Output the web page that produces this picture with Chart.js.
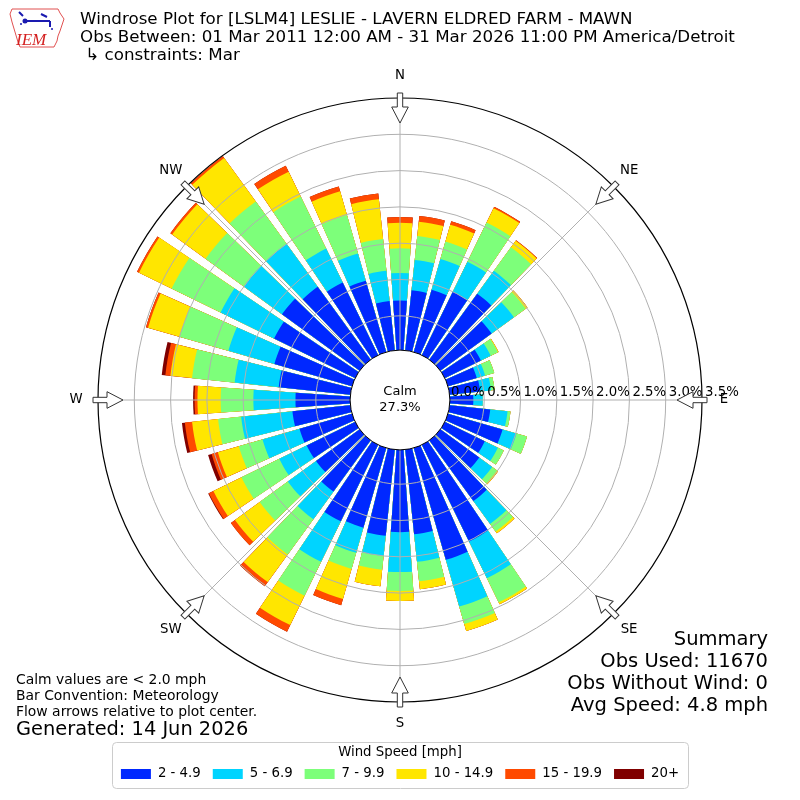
<!DOCTYPE html>
<html>
<head>
<meta charset="utf-8">
<script src="https://cdn.jsdelivr.net/npm/chart.js@4.4.1/dist/chart.umd.min.js"></script>
<style>
  html, body { margin: 0; padding: 0; background: #fff; }
  #wrap { width: 800px; height: 800px; }
</style>
</head>
<body>
<div id="wrap"><canvas id="rose" width="800" height="800"></canvas></div>
<script>
// bar directions, degrees clockwise from north
const DIRECTIONS = [0, 10, 20, 30, 40, 50, 60, 70, 80, 90, 100, 110, 120, 130, 140, 150, 160, 170,
                    180, 190, 200, 210, 220, 230, 240, 250, 260, 270, 280, 290, 300, 310, 320, 330, 340, 350];
const SPEED_BINS = ['2 - 4.9', '5 - 6.9', '7 - 9.9', '10 - 14.9', '15 - 19.9', '20+'];
const BIN_COLORS = ['#0028ff', '#00d4ff', '#7dff7a', '#ffe600', '#ff4a00', '#800000'];

// percent of observations per direction, one array per speed bin
const SPD_2_5   = [0.71, 0.86, 0.92, 1.00, 1.15, 0.90, 0.58, 0.44, 0.45, 0.35, 0.59, 0.81, 0.64, 0.69, 1.06, 1.51, 1.63, 1.20,
                   1.16, 1.22, 1.17, 1.20, 0.90, 0.77, 0.77, 0.78, 0.83, 0.78, 1.02, 1.14, 1.27, 1.35, 1.27, 1.14, 1.05, 0.71];
const SPD_5_7   = [0.38, 0.42, 0.44, 0.46, 0.39, 0.38, 0.15, 0.12, 0.15, 0.13, 0.24, 0.20, 0.20, 0.22, 0.39, 0.56, 0.67, 0.38,
                   0.55, 0.28, 0.36, 0.62, 0.47, 0.48, 0.42, 0.53, 0.71, 0.58, 0.61, 0.66, 0.82, 0.65, 0.73, 0.52, 0.39, 0.42];
const SPD_7_10  = [0.34, 0.33, 0.25, 0.60, 0.40, 0.20, 0.11, 0.13, 0.05, 0.00, 0.04, 0.15, 0.09, 0.08, 0.13, 0.37, 0.25, 0.27,
                   0.26, 0.19, 0.23, 0.52, 0.60, 0.48, 0.58, 0.34, 0.32, 0.45, 0.59, 0.70, 0.75, 0.65, 0.72, 0.80, 0.55, 0.44];
const SPD_10_15 = [0.35, 0.20, 0.24, 0.22, 0.11, 0.03, 0.01, 0.00, 0.00, 0.00, 0.00, 0.00, 0.00, 0.02, 0.03, 0.03, 0.10, 0.11,
                   0.14, 0.23, 0.43, 0.45, 0.47, 0.42, 0.43, 0.30, 0.36, 0.32, 0.30, 0.45, 0.50, 0.57, 0.74, 0.38, 0.34, 0.55];
const SPD_15_20 = [0.08, 0.08, 0.05, 0.02, 0.01, 0.00, 0.00, 0.00, 0.00, 0.00, 0.00, 0.00, 0.00, 0.00, 0.00, 0.00, 0.00, 0.00,
                   0.00, 0.00, 0.09, 0.10, 0.07, 0.07, 0.07, 0.09, 0.10, 0.04, 0.07, 0.03, 0.03, 0.03, 0.03, 0.09, 0.07, 0.08];
const SPD_20_UP = [0.00, 0.00, 0.00, 0.00, 0.00, 0.00, 0.00, 0.00, 0.00, 0.00, 0.00, 0.00, 0.00, 0.00, 0.00, 0.00, 0.00, 0.00,
                   0.00, 0.00, 0.00, 0.00, 0.00, 0.00, 0.01, 0.05, 0.04, 0.02, 0.05, 0.00, 0.00, 0.00, 0.00, 0.00, 0.00, 0.00];

const TICK_VALUES = [0, 0.5, 1.0, 1.5, 2.0, 2.5, 3.0, 3.5];
const CALM_PCT = 27.3;
const COMPASS = ['N', 'NE', 'E', 'SE', 'S', 'SW', 'W', 'NW'];

const BAR_DEG = 8;   // bar width, rest of each 10 deg sector is gap
const GAP_DEG = 2;
const R_MIN = -0.66; // leaves room for the calm circle
const R_MAX = 3.5;
const FONT = '"DejaVu Sans", sans-serif';

const BINS = [SPD_2_5, SPD_5_7, SPD_7_10, SPD_10_15, SPD_15_20, SPD_20_UP];

// each bar slot followed by an empty gap slot
const labels = [];
DIRECTIONS.forEach(d => { labels.push(d + '°'); labels.push(''); });

// cumulative stacks, smallest first so dataset 0 is painted on top
let running = DIRECTIONS.map(() => 0);
const datasets = BINS.map((bin, k) => {
  running = running.map((v, i) => v + bin[i]);
  const data = [];
  running.forEach(v => { data.push(+v.toFixed(3)); data.push(0); });
  return {
    label: SPEED_BINS[k],
    data,
    backgroundColor: c => (c.index % 2 ? 'rgba(0,0,0,0)' : BIN_COLORS[k]),
    borderWidth: 0,
    angle: c => (c.index % 2 ? GAP_DEG : BAR_DEG),
  };
});

function text(ctx, str, x, y, size, align, color, base) {
  ctx.font = size + 'px ' + FONT;
  ctx.textAlign = align || 'left';
  ctx.textBaseline = base || 'middle';
  ctx.fillStyle = color || '#000';
  ctx.fillText(str, x, y);
}

function drawArrow(ctx, cx, cy, deg, rOut) {
  const r0 = rOut + 5, rh = rOut - 9, rt = rOut - 25;
  const pts = [[r0, -2.7], [r0, 2.7], [rh, 2.7], [rh, 8.3], [rt, 0], [rh, -8.3], [rh, -2.7]];
  ctx.save();
  ctx.translate(cx, cy);
  ctx.rotate(deg * Math.PI / 180);
  ctx.beginPath();
  pts.forEach(([d, t], i) => (i ? ctx.lineTo(t, -d) : ctx.moveTo(t, -d)));
  ctx.closePath();
  ctx.fillStyle = '#fff';
  ctx.fill();
  ctx.strokeStyle = '#333';
  ctx.lineWidth = 1;
  ctx.stroke();
  ctx.restore();
}

function drawLogo(ctx) {
  const outline = [[12, 9], [58, 9], [60, 13], [64, 19], [62, 25], [60, 31], [58, 36], [57, 41], [54, 47],
                   [20, 47], [18, 42], [15, 32], [12, 22], [10, 14]];
  ctx.save();
  ctx.beginPath();
  outline.forEach(([x, y], i) => (i ? ctx.lineTo(x, y) : ctx.moveTo(x, y)));
  ctx.closePath();
  ctx.strokeStyle = '#e05050';
  ctx.lineWidth = 1;
  ctx.stroke();
  ctx.strokeStyle = '#1a1ab0';
  ctx.fillStyle = '#1a1ab0';
  ctx.lineWidth = 2;
  ctx.beginPath();
  ctx.moveTo(25, 21); ctx.lineTo(50, 21);
  ctx.moveTo(50, 21); ctx.lineTo(50, 27);
  ctx.moveTo(19, 12); ctx.lineTo(23, 16);
  ctx.moveTo(41, 14); ctx.lineTo(47, 17);
  ctx.stroke();
  ctx.beginPath(); ctx.arc(25, 21, 2.5, 0, Math.PI * 2); ctx.fill();
  ctx.beginPath(); ctx.arc(21, 24, 1, 0, Math.PI * 2); ctx.fill();
  ctx.beginPath(); ctx.arc(52, 29, 1, 0, Math.PI * 2); ctx.fill();
  ctx.font = 'italic 17px "Liberation Serif", serif';
  ctx.textAlign = 'left';
  ctx.textBaseline = 'alphabetic';
  ctx.fillStyle = '#d42020';
  ctx.fillText('IEM', 16, 45);
  ctx.restore();
}

function drawLegend(ctx, chart) {
  const x0 = 112, y0 = 742, w = 576, h = 46;
  ctx.save();
  ctx.beginPath();
  ctx.roundRect(x0 + 0.5, y0 + 0.5, w, h, 4);
  ctx.fillStyle = 'rgba(255,255,255,0.8)';
  ctx.fill();
  ctx.strokeStyle = '#cccccc';
  ctx.lineWidth = 1;
  ctx.stroke();
  text(ctx, 'Wind Speed [mph]', 400, 753, 13.3, 'center');
  ctx.font = '13.3px ' + FONT;
  const sw = 30, gap = 7, space = 12;
  const items = chart.data.datasets.map((ds, k) => ({ label: ds.label, color: BIN_COLORS[k], tw: ctx.measureText(ds.label).width }));
  const total = items.reduce((s, it) => s + sw + gap + it.tw, 0) + space * (items.length - 1);
  let x = 400 - total / 2;
  items.forEach(it => {
    ctx.fillStyle = it.color;
    ctx.fillRect(x, 769, sw, 10);
    text(ctx, it.label, x + sw + gap, 774, 13.3, 'left');
    x += sw + gap + it.tw + space;
  });
  ctx.restore();
}

const roseDecor = {
  id: 'roseDecor',
  afterDatasetsDraw(chart) {
    const ctx = chart.ctx;
    const scale = chart.scales.r;
    const cx = scale.xCenter, cy = scale.yCenter;
    const rOut = scale.getDistanceFromCenterForValue(R_MAX);
    const rCalm = scale.getDistanceFromCenterForValue(0) + 2;
    ctx.save();
    // grid rings over the bars
    ctx.strokeStyle = '#b0b0b0';
    ctx.lineWidth = 1;
    TICK_VALUES.filter(v => v > 0 && v < R_MAX).forEach(v => {
      ctx.beginPath();
      ctx.arc(cx, cy, scale.getDistanceFromCenterForValue(v), 0, Math.PI * 2);
      ctx.stroke();
    });
    // spokes every 45 deg
    COMPASS.forEach((_, i) => {
      const a = (i * 45 - 90) * Math.PI / 180;
      ctx.beginPath();
      ctx.moveTo(cx + rCalm * Math.cos(a), cy + rCalm * Math.sin(a));
      ctx.lineTo(cx + rOut * Math.cos(a), cy + rOut * Math.sin(a));
      ctx.stroke();
    });
    // outer frame
    ctx.strokeStyle = '#000';
    ctx.lineWidth = 1.2;
    ctx.beginPath();
    ctx.arc(cx, cy, rOut, 0, Math.PI * 2);
    ctx.stroke();
    // calm circle
    ctx.beginPath();
    ctx.arc(cx, cy, rCalm, 0, Math.PI * 2);
    ctx.fillStyle = '#fff';
    ctx.fill();
    ctx.lineWidth = 1;
    ctx.stroke();
    text(ctx, 'Calm', cx, cy - 8, 13, 'center');
    text(ctx, CALM_PCT.toFixed(1) + '%', cx, cy + 8, 13, 'center');
    // tick labels along east
    TICK_VALUES.forEach(v => {
      text(ctx, v.toFixed(1) + '%', cx + scale.getDistanceFromCenterForValue(v) + 3, cy - 7, 13.3, 'left');
    });
    // flow arrows and compass labels
    COMPASS.forEach((lab, i) => {
      drawArrow(ctx, cx, cy, i * 45, rOut);
      const a = (i * 45 - 90) * Math.PI / 180;
      text(ctx, lab, cx + 324 * Math.cos(a), cy + 324 * Math.sin(a), 13.3, 'center');
    });
    ctx.restore();
  },
  afterDraw(chart) {
    const ctx = chart.ctx;
    ctx.save();
    drawLogo(ctx);
    text(ctx, 'Windrose Plot for [LSLM4] LESLIE - LAVERN ELDRED FARM - MAWN', 80, 20, 16.7);
    text(ctx, 'Obs Between: 01 Mar 2011 12:00 AM - 31 Mar 2026 11:00 PM America/Detroit', 80, 38, 16.7);
    text(ctx, ' ↳ constraints: Mar', 80, 56, 16.7);

    text(ctx, 'Calm values are < 2.0 mph', 16, 680, 13.9);
    text(ctx, 'Bar Convention: Meteorology', 16, 696, 13.9);
    text(ctx, 'Flow arrows relative to plot center.', 16, 712, 13.9);
    text(ctx, 'Generated: 14 Jun 2026', 16, 730, 19.4);

    text(ctx, 'Summary', 768, 640, 19.5, 'right');
    text(ctx, 'Obs Used: 11670', 768, 662, 19.5, 'right');
    text(ctx, 'Obs Without Wind: 0', 768, 684, 19.5, 'right');
    text(ctx, 'Avg Speed: 4.8 mph', 768, 706, 19.5, 'right');

    drawLegend(ctx, chart);
    ctx.restore();
  },
};

new Chart(document.getElementById('rose'), {
  type: 'polarArea',
  data: { labels, datasets },
  options: {
    responsive: false,
    devicePixelRatio: 1,
    animation: false,
    layout: { padding: { left: 98, right: 98, top: 98, bottom: 98 } },
    plugins: { legend: { display: false }, tooltip: { enabled: false } },
    scales: {
      r: {
        min: R_MIN,
        max: R_MAX,
        startAngle: -BAR_DEG / 2,
        ticks: { display: false },
        grid: { display: false },
        angleLines: { display: false },
        pointLabels: { display: false },
      },
    },
  },
  plugins: [roseDecor],
});
</script>
</body>
</html>
